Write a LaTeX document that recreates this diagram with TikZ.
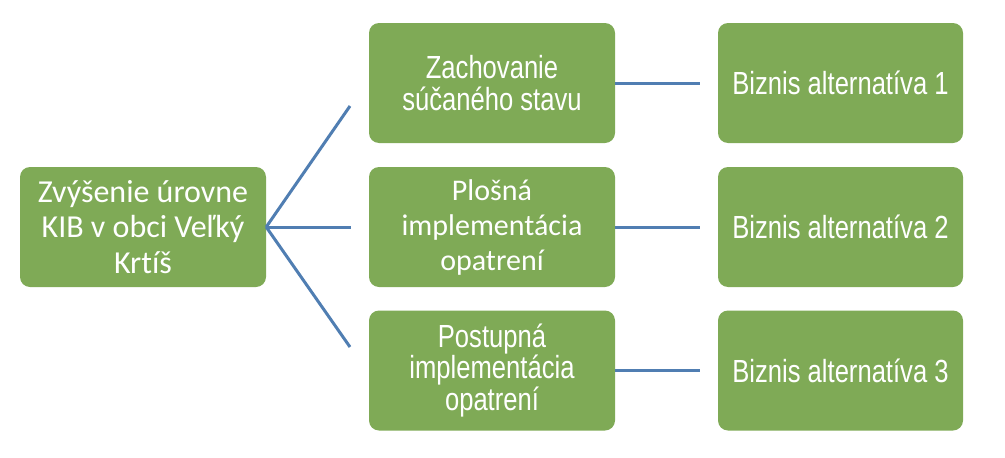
\documentclass[tikz,border=0pt]{standalone}
\usepackage{fontspec}
\setmainfont[Ligatures=NoCommon]{Carlito}
\newfontfamily\narrowfont[FakeStretch=0.80]{Liberation Sans}
\definecolor{boxgreen}{RGB}{127,170,86}
\definecolor{linkblue}{RGB}{80,126,178}
\begin{document}
\begin{tikzpicture}[x=1pt,y=-1pt,
  gbox/.style={rectangle,rounded corners=10pt,fill=boxgreen,text=white,
    minimum width=246pt,minimum height=120pt,inner sep=0pt,align=center},
  calfont/.style={font=\fontsize{30}{35}\selectfont},
  bigcalfont/.style={font=\fontsize{32}{35.5}\selectfont},
  arfont/.style={font=\narrowfont\fontsize{32}{31.5}\selectfont},
  link/.style={draw=linkblue,line width=3pt}]
\useasboundingbox (0,0) rectangle (1005,458);
\node[gbox,bigcalfont] (root) at (143,227) {Zvýšenie úrovne\\KIB v obci Veľký\\Krtíš};
\node[gbox,arfont] (m1) at (492,83) {Zachovanie\\súčaného stavu};
\node[gbox,calfont] (m2) at (492,227) {Plošná\\implementácia\\opatrení};
\node[gbox,arfont] (m3) at (492,370.5) {Postupná\\implementácia\\opatrení};
\node[gbox,arfont,minimum width=245pt] (r1) at (840.5,83) {Biznis alternatíva 1};
\node[gbox,arfont,minimum width=245pt] (r2) at (840.5,227) {Biznis alternatíva 2};
\node[gbox,arfont,minimum width=245pt] (r3) at (840.5,370.5) {Biznis alternatíva 3};
\coordinate (t1) at (350,106);
\coordinate (t2) at (351,227);
\coordinate (t3) at (350,347);
\coordinate (e1) at (700,83);
\coordinate (e2) at (700,227);
\coordinate (e3) at (700,370.5);
\draw[link] (root.east) -- (t1);
\draw[link] (root.east) -- (t2);
\draw[link] (root.east) -- (t3);
\draw[link] (m1.east) -- (e1);
\draw[link] (m2.east) -- (e2);
\draw[link] (m3.east) -- (e3);
\end{tikzpicture}
\end{document}
